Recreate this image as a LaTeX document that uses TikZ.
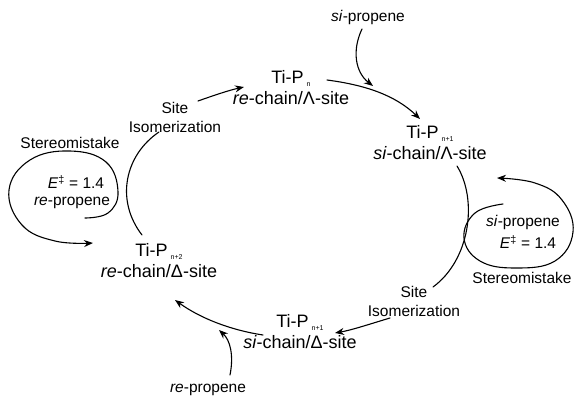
\documentclass[tikz,border=0pt]{standalone}
\usepackage{fontspec}
\setmainfont{Liberation Sans}
\usetikzlibrary{arrows.meta}
\tikzset{
  state/.style={font=\fontsize{18}{21}\selectfont, align=center, inner sep=0pt},
  label/.style={font=\fontsize{15.5}{19}\selectfont, align=center, inner sep=0pt},
  link/.style={line width=1.1pt, line cap=round},
  arr/.style={link, -{Stealth[length=9pt,width=7pt]}},
}
\newcommand{\subidx}[1]{\,\raisebox{-3pt}{\fontsize{7}{7}\selectfont #1}}
\newcommand{\Edag}{\textit{E}\textsuperscript{‡}}

\begin{document}
\begin{tikzpicture}[x=1pt,y=-1pt]
  \useasboundingbox (0,0) rectangle (576,406);

  % catalyst states
  \node[state] (n1) at (291,88)  {Ti-P\subidx{n}\\\textit{re}-chain/Λ-site};
  \node[state] (n2) at (430,143) {Ti-P\subidx{n+1}\\\textit{si}-chain/Λ-site};
  \node[state] (n3) at (300,332) {Ti-P\subidx{n+1}\\\textit{si}-chain/Δ-site};
  \node[state] (n4) at (159,261) {Ti-P\subidx{n+2}\\\textit{re}-chain/Δ-site};

  % step labels
  \node[label] (iso1) at (175,117) {Site\\Isomerization};
  \node[label] (iso2) at (414,301) {Site\\Isomerization};
  \node[label] (sip)  at (368,17)  {\textit{si}-propene};
  \node[label] (rep)  at (208,390) {\textit{re}-propene};

  % left stereomistake loop labels
  \node[label] (sm1) at (70,143)  {Stereomistake};
  \node[label] (e1)  at (76,182)  {\Edag{} = 1.4};
  \node[label] (rp1) at (72,203)  {\textit{re}-propene};

  % right stereomistake loop labels
  \node[label] (sp2) at (523,222) {\textit{si}-propene};
  \node[label] (e2)  at (528,242) {\Edag{} = 1.4};
  \node[label] (sm2) at (522,278) {Stereomistake};

  % connector end points
  \coordinate (n4top)   at (142,235);
  \coordinate (iso1bot) at (159,132);
  \coordinate (iso1out) at (198,101);
  \coordinate (n1in)    at (244,87);
  \coordinate (n1out)   at (327,80);
  \coordinate (n2in)    at (420,119);
  \coordinate (sipout)  at (362,29);
  \coordinate (sipin)   at (373,86);
  \coordinate (n2bot)   at (457,166);
  \coordinate (iso2top) at (433,287);
  \coordinate (iso2out) at (390,318);
  \coordinate (n3in)    at (335,333);
  \coordinate (n3out)   at (263,335);
  \coordinate (n4in)    at (175,300);
  \coordinate (repout)  at (230,375);
  \coordinate (repin)   at (219,330);

  % main cycle
  \draw[link] (n4top) .. controls (115,200) and (125,155) .. (iso1bot);
  \draw[arr] (iso1out) .. controls (215,95) and (230,90) .. (n1in);
  \draw[arr] (n1out) .. controls (365,85) and (395,95) .. (n2in);
  \draw[arr] (sipout) .. controls (352,50) and (355,72) .. (sipin);
  \draw[link] (n2bot) .. controls (478,200) and (470,260) .. (iso2top);
  \draw[arr] (iso2out) .. controls (370,324) and (352,330) .. (n3in);
  \draw[arr] (n3out) .. controls (230,330) and (200,318) .. (n4in);
  \draw[arr] (repout) .. controls (234,355) and (230,340) .. (repin);

  % stereomistake loops
  \draw[arr] plot[smooth, tension=0.7] coordinates {(85,218) (108,213) (118,192) (106,162) (70,151) (30,160) (9,190) (22,225) (55,241) (93,243)};
  \draw[arr] plot[smooth, tension=0.7] coordinates {(503,204) (475,213) (464,238) (480,261) (515,268) (555,261) (573,232) (562,200) (535,183) (497,178)};
\end{tikzpicture}
\end{document}
